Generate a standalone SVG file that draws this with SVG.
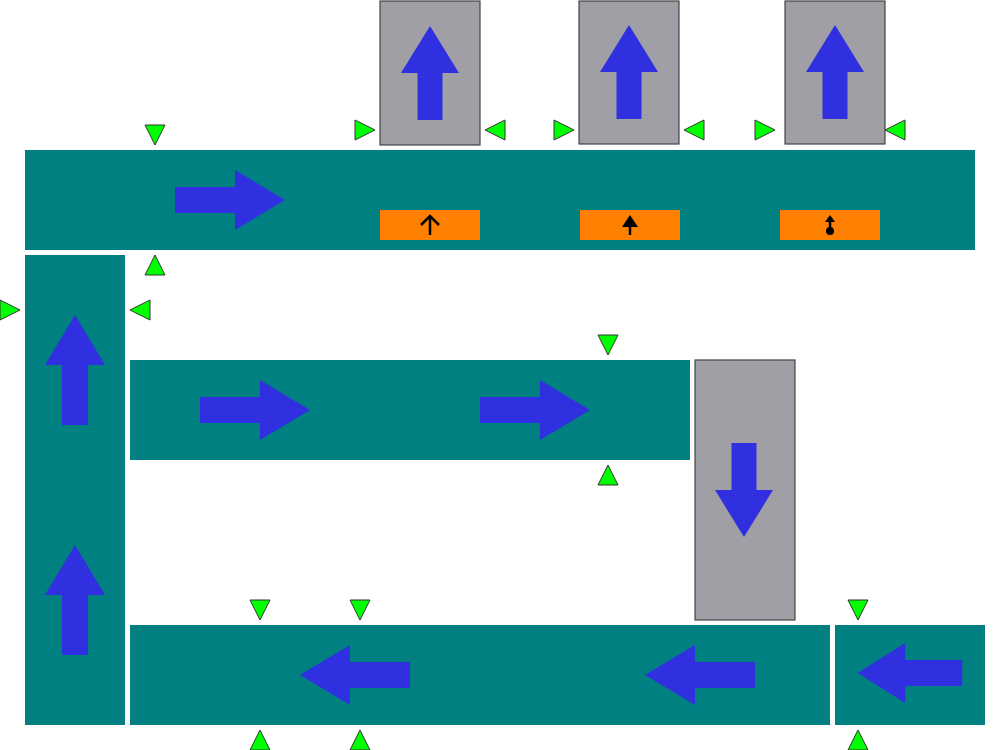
<svg xmlns="http://www.w3.org/2000/svg" xmlns:xlink="http://www.w3.org/1999/xlink" width="1000" height="750" viewBox="0 0 1000 750">
<style>
.belt{fill:#008080}
.grey{fill:#a09fa5;stroke:#444;stroke-width:1.2}
.arr{fill:#3030e0}
.tri{fill:#00ff00;stroke:#333;stroke-width:1}
.lab{fill:#ff7f00}
.sym{stroke:#000;stroke-width:2.5;fill:none}
.symf{fill:#000}
</style>
<defs>
<path id="ar" d="M-55,-13 H5 V-30 L55,0 L5,30 V13 H-55 Z"/>
<path id="av" d="M-12.5,47 V0 H-29 L0,-47 L29,0 H12.5 V47 Z"/>
<path id="td" d="M-10,-10 H10 L0,10 Z"/>
</defs>
<rect width="1000" height="750" fill="#fff"/>
<g id="connectors"></g>
<g id="belt-top">
<rect class="belt" x="25" y="150" width="950" height="100"/>
<use href="#ar" class="arr" transform="translate(230,200)"/>
<use href="#td" class="tri" transform="translate(155,135)"/>
<use href="#td" class="tri" transform="translate(155,265) rotate(180)"/>
</g>
<g id="label-1">
<rect class="lab" x="380" y="210" width="100" height="30"/>
<path class="sym" d="M421,225 L430,216 L439,225 M430,216 V235"/>
</g>
<g id="label-2">
<rect class="lab" x="580" y="210" width="100" height="30"/>
<path class="symf" d="M630,215 L638,227 H622 Z"/>
<path class="sym" d="M630,225 V235"/>
</g>
<g id="label-3">
<rect class="lab" x="780" y="210" width="100" height="30"/>
<path class="symf" d="M830,215 L835,222 H825 Z"/>
<path class="sym" d="M830,221 V229"/>
<circle class="symf" cx="830" cy="231" r="4"/>
</g>
<g id="lift-1">
<rect class="grey" x="380" y="1" width="100" height="144"/>
<use href="#av" class="arr" transform="translate(430,73)"/>
<use href="#td" class="tri" transform="translate(365,130) rotate(-90)"/>
<use href="#td" class="tri" transform="translate(495,130) rotate(90)"/>
</g>
<g id="lift-2">
<rect class="grey" x="579" y="1" width="100" height="143"/>
<use href="#av" class="arr" transform="translate(629,72)"/>
<use href="#td" class="tri" transform="translate(564,130) rotate(-90)"/>
<use href="#td" class="tri" transform="translate(694,130) rotate(90)"/>
</g>
<g id="lift-3">
<rect class="grey" x="785" y="1" width="100" height="143"/>
<use href="#av" class="arr" transform="translate(835,72)"/>
<use href="#td" class="tri" transform="translate(765,130) rotate(-90)"/>
<use href="#td" class="tri" transform="translate(895,130) rotate(90)"/>
</g>
<g id="belt-left">
<rect class="belt" x="25" y="255" width="100" height="470"/>
<use href="#ar" class="arr" transform="translate(75,370) rotate(-90)"/>
<use href="#ar" class="arr" transform="translate(75,600) rotate(-90)"/>
<use href="#td" class="tri" transform="translate(10,310) rotate(-90)"/>
<use href="#td" class="tri" transform="translate(140,310) rotate(90)"/>
</g>
<g id="belt-middle">
<rect class="belt" x="130" y="360" width="560" height="100"/>
<use href="#ar" class="arr" transform="translate(255,410)"/>
<use href="#ar" class="arr" transform="translate(535,410)"/>
<use href="#td" class="tri" transform="translate(608,345)"/>
<use href="#td" class="tri" transform="translate(608,475) rotate(180)"/>
</g>
<g id="lift-down">
<rect class="grey" x="695" y="360" width="100" height="260"/>
<use href="#av" class="arr" transform="translate(744,490) rotate(180)"/>
</g>
<g id="belt-bottom">
<rect class="belt" x="130" y="625" width="700" height="100"/>
<use href="#ar" class="arr" transform="translate(355,675) rotate(180)"/>
<use href="#ar" class="arr" transform="translate(700,675) rotate(180)"/>
<use href="#td" class="tri" transform="translate(260,610)"/>
<use href="#td" class="tri" transform="translate(360,610)"/>
<use href="#td" class="tri" transform="translate(260,740) rotate(180)"/>
<use href="#td" class="tri" transform="translate(360,740) rotate(180)"/>
</g>
<g id="belt-right">
<rect class="belt" x="835" y="625" width="150" height="100"/>
<use href="#ar" class="arr" transform="translate(910,673) rotate(180) scale(0.95,1)"/>
<use href="#td" class="tri" transform="translate(858,610)"/>
<use href="#td" class="tri" transform="translate(858,740) rotate(180)"/>
</g>
</svg>
